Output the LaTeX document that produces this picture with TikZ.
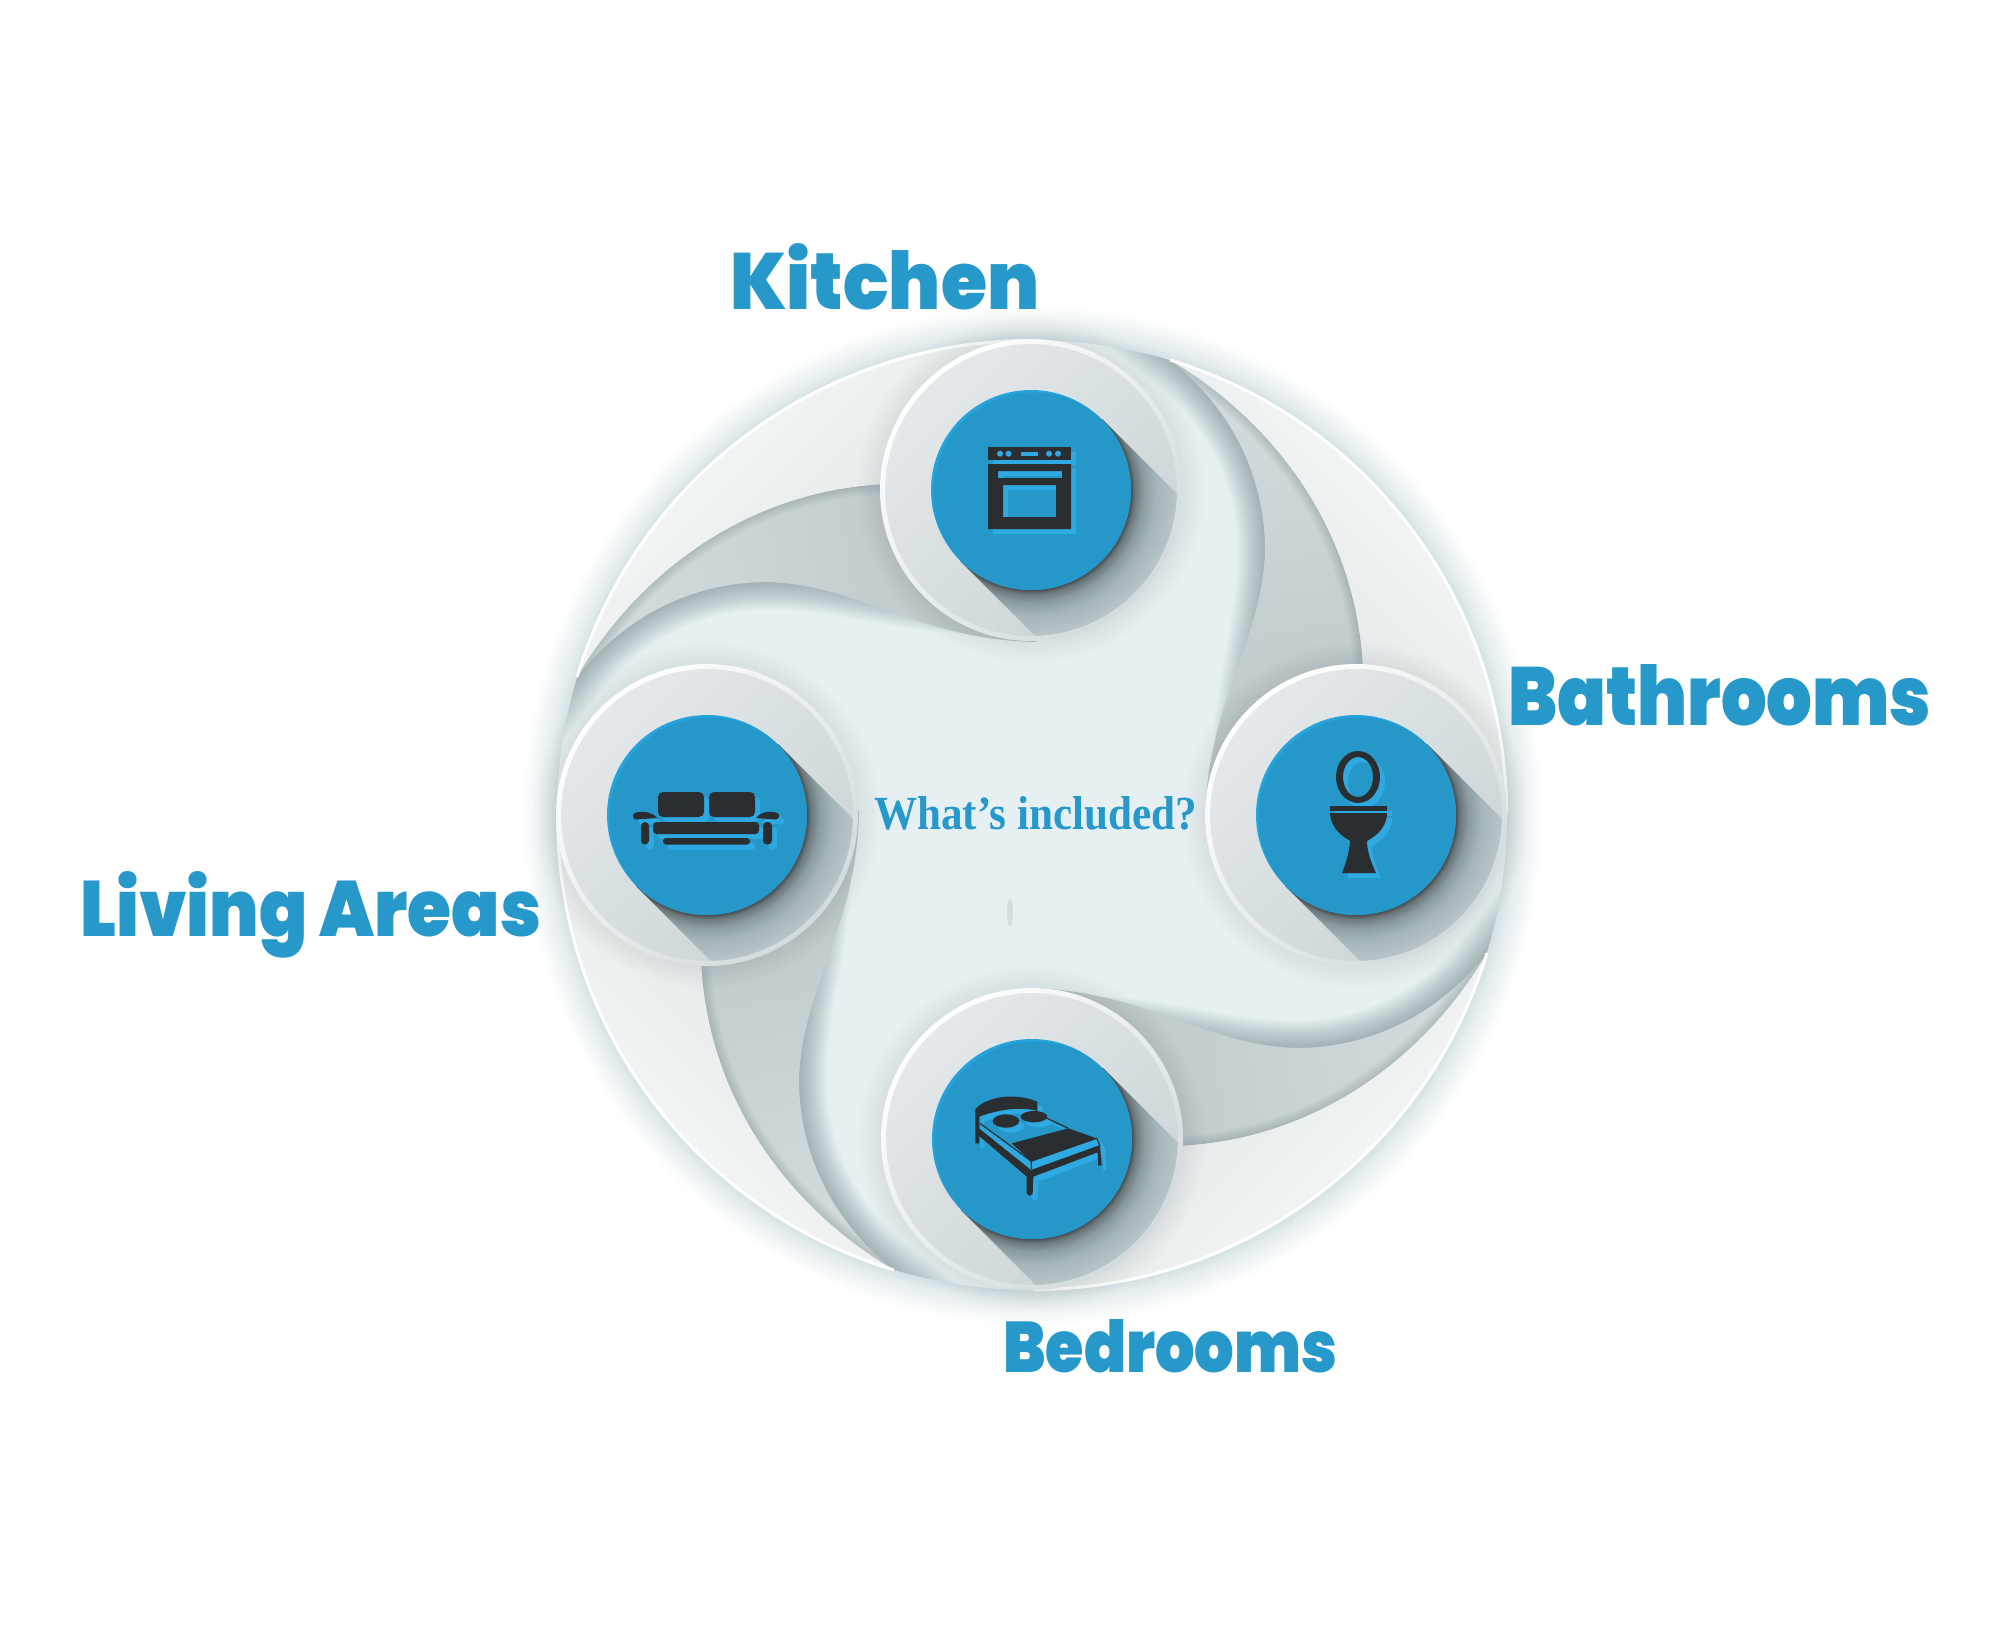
\documentclass[tikz,border=0pt]{standalone}
\usepackage{graphicx}
\usepackage{fontspec}
\usetikzlibrary{calc}
\setmainfont{Liberation Serif}
\newfontfamily\dispfont{Poppins}[UprightFont=* Black]
\newfontfamily\condfont{Liberation Serif}[UprightFont=* Bold]
\definecolor{txtblue}{HTML}{2698CA}
\definecolor{paleb}{HTML}{E6F0F2}
\definecolor{glowc}{HTML}{D0DEE2}
\definecolor{shadowc}{HTML}{4F6469}
\definecolor{mainblue}{HTML}{2597C9}
\definecolor{brightblue}{HTML}{25A3DD}
\definecolor{icondark}{HTML}{2B2E31}
\definecolor{iconlight}{HTML}{2FA9E1}
\definecolor{sh0}{HTML}{4A4F52}
\definecolor{sh1}{HTML}{6A777B}
\definecolor{sha}{HTML}{8A9A9F}
\definecolor{shb}{HTML}{A5B4B8}
\definecolor{shc}{HTML}{BCC8CB}
\definecolor{darka}{HTML}{D3DBDD}
\definecolor{darkb}{HTML}{BBC6C9}
\definecolor{lighta}{HTML}{F9FAFA}
\definecolor{lightb}{HTML}{DBE1E3}
\definecolor{disca}{HTML}{E4E9EB}
\definecolor{discb}{HTML}{CBD4D6}
\definecolor{rimb}{HTML}{D2DADC}
\pgfdeclareradialshading{glowsh}{\pgfpoint{0bp}{0bp}}{color(0bp)=(glowc);color(23.2bp)=(glowc);color(23.8bp)=(glowc!55!white);color(25bp)=(white);color(50bp)=(white)}
\pgfdeclareradialshading{longsh}{\pgfpoint{0bp}{0bp}}{color(0bp)=(sh0);color(16.67bp)=(sh0);color(17.3bp)=(sh1);color(18.7bp)=(sha);color(20.8bp)=(shb);color(25bp)=(shc);color(50bp)=(shc)}
\tikzset{
  titletext/.style={anchor=base west,inner sep=0pt,text=txtblue,font=\dispfont},
  softline/.style={draw=shadowc,line cap=round},
}
\def\upperEdge{(577,677) .. controls (640,570) and (750,490) .. (886,484)}
\def\lowerShadow{(965,606) .. controls (900,605) and (840,582) .. (768,582) .. controls (700,582) and (630,610) .. (577,677) -- (530,737)}
\def\leafDark{(577,677) .. controls (640,570) and (750,490) .. (886,484) -- (1036,490) -- (1036,642) .. controls (920,640) and (860,585) .. (768,582) .. controls (700,582) and (630,610) .. (577,677) -- cycle}
\def\leafLight{(577,677) arc[start angle=196.87,end angle=270,radius=475] -- (1031,490) -- (886,484) .. controls (750,490) and (640,570) .. (577,677) -- cycle}
\newcommand\blade[1]{%
  \begin{scope}[rotate around={#1:(1032,815)}]
    \begin{scope}
      \clip (1032,815) circle[radius=475];
      \foreach \w in {3,7,...,55} \draw[softline,line width=\w pt,opacity=.034] \lowerShadow;
    \end{scope}
    \pgfmathsetmacro\angD{100+#1}
    \shade[top color=darka,bottom color=darkb,shading angle=\angD] \leafDark;
    \begin{scope}
      \clip \leafDark;
      \foreach \w in {2,5,...,20} \draw[softline,line width=\w pt,opacity=.035] \upperEdge;
    \end{scope}
    \pgfmathsetmacro\angL{45+#1}
    \shade[top color=lighta,bottom color=lightb,shading angle=\angL] \leafLight;
    \draw[white,line width=3pt] (577,677) arc[start angle=196.87,end angle=270,radius=474];
  \end{scope}}
\newcommand\station[3]{%
  \begin{scope}[shift={(#1,#2)}]
    \foreach \w in {4,10,...,46} \draw[softline,line width=\w pt,opacity=.012] (0,0) circle[radius=150];
    \shade[top color=disca,bottom color=discb,shading angle=45] (0,0) circle[radius=150];
    \begin{scope}
      \clip (0,0) circle[radius=150];
      \clip (71,-71) -- (241,99) -- (99,241) -- (-71,71) -- cycle;
      \shade[shading=longsh] (0,0) circle[radius=150];
    \end{scope}
    \shade[even odd rule,top color=white,bottom color=rimb,shading angle=45] (0,0) circle[radius=151] (0,0) circle[radius=146];
    \fill[brightblue] (0,0) circle[radius=100];
    \begin{scope}
      \clip (0,0) circle[radius=100];
      \fill[mainblue] (2.5,2.5) circle[radius=100];
    \end{scope}
  \end{scope}
  \begin{scope}[shift={(5,5)}]#3{iconlight}\end{scope}
  #3{icondark}}
\newcommand\ovenicon[1]{%
  \fill[#1] (988,447) rectangle (1071,460);
  \fill[#1,even odd rule] (988,464) rectangle (1071,529) (998,471) rectangle (1062,478) (1003,485) rectangle (1056,517);}
\newcommand\ovenholes{%
  \fill[iconlight] (1000,453.7) circle[radius=3] (1008.5,453.7) circle[radius=3] (1049,453.7) circle[radius=3] (1058,453.7) circle[radius=3];
  \fill[iconlight] (1021,452) rectangle (1038,455.5);}
\newcommand\sofaicon[1]{%
  \fill[#1,rounded corners=5pt] (658,792) rectangle (704,817);
  \fill[#1,rounded corners=5pt] (709,792) rectangle (755,817);
  \fill[#1,rounded corners=3.5pt] (653,822) rectangle (759,834);
  \fill[#1,rounded corners=3pt] (663,838) rectangle (750,844.5);
  \fill[#1,rounded corners=4pt] (641,822) rectangle (649,844.5);
  \fill[#1,rounded corners=4pt] (763,822) rectangle (772,844.5);
  \fill[#1] (636,812.5) .. controls (644,811) and (652,812) .. (657,818) -- (636,819.5) .. controls (632,819) and (632,813) .. (636,812.5) -- cycle;
  \fill[#1] (776,812.5) .. controls (768,811) and (760,812) .. (756,818) -- (776,819.5) .. controls (780,819) and (780,813) .. (776,812.5) -- cycle;}
\newcommand\toileticon[1]{%
  \fill[#1,even odd rule] (1358,777) ellipse[x radius=22,y radius=26] (1358,777) ellipse[x radius=15,y radius=20];
  \fill[#1] (1330,806) rectangle (1387,811);
  \fill[#1] (1330,813) .. controls (1331,830) and (1345,838) .. (1350,841) .. controls (1349,855) and (1345,865) .. (1342,873) -- (1376,873) .. controls (1370,860) and (1367,850) .. (1367,841) .. controls (1372,838) and (1387,830) .. (1387,813) -- cycle;}
\newcommand\bedicon[1]{%
  \begin{scope}[shift={(930,1060)},x=.3333pt,y=-.3333pt]
    \fill[iconlight] (147,198) -- (303,303) -- (500,235) -- (510,258) -- (303,330) -- (147,205) -- cycle;
    \fill[#1] (136,250) -- (136,148) .. controls (165,112) and (250,95) .. (322,125) -- (322,153) .. controls (270,138) and (200,150) .. (148,170) -- (148,250) -- cycle;
    \fill[#1] (228,183) ellipse[x radius=40,y radius=20];
    \fill[#1] (312,170) ellipse[x radius=40,y radius=17];
    \fill[#1] (245,250) -- (415,205) -- (500,235) -- (305,305) -- cycle;
    \fill[#1] (147,205) -- (303,330) -- (510,255) -- (515,315) -- (505,318) -- (503,277) -- (310,350) -- (308,402) -- (298,408) -- (290,400) -- (290,350) -- (147,228) -- cycle;
    \draw[#1,line width=1.2pt] (150,190) -- (303,303) -- (305,328) (303,303) -- (500,235) -- (510,258) (415,205) -- (330,165);
  \end{scope}}
\begin{document}
\begin{tikzpicture}[x=1pt,y=-1pt]
\useasboundingbox (0,0) rectangle (2000,1651);
\fill[white] (0,0) rectangle (2000,1651);
% glow and base disc
\shade[shading=glowsh] (1032,815) circle[radius=510];
\fill[paleb] (1032,815) circle[radius=475];
% four blades
\blade{0}
\blade{-90}
\blade{-180}
\blade{-270}
% central smudge
\fill[shadowc,opacity=.12] (1010,913) ellipse[x radius=3,y radius=14];
% stations
\station{1031}{490}{\ovenicon}
\ovenholes
\station{1356}{815}{\toileticon}
\station{707}{815}{\sofaicon}
\station{1032}{1139}{\bedicon}
% labels
\node[titletext] (kitchen) at (730,309) {\resizebox{309pt}{66pt}{Kitchen}};
\node[titletext] (bathrooms) at (1508,725) {\resizebox{423pt}{61pt}{Bathrooms}};
\node[titletext] (living) at (80,936) {\resizebox{461pt}{65pt}{Living Areas}};
\node[titletext] (bedrooms) at (1003,1372) {\resizebox{334pt}{53pt}{Bedrooms}};
\node[anchor=base west,inner sep=0pt,text=txtblue,font=\condfont] (centre) at (874,829) {\resizebox{323pt}{33pt}{What’s included?}};
\end{tikzpicture}
\end{document}
